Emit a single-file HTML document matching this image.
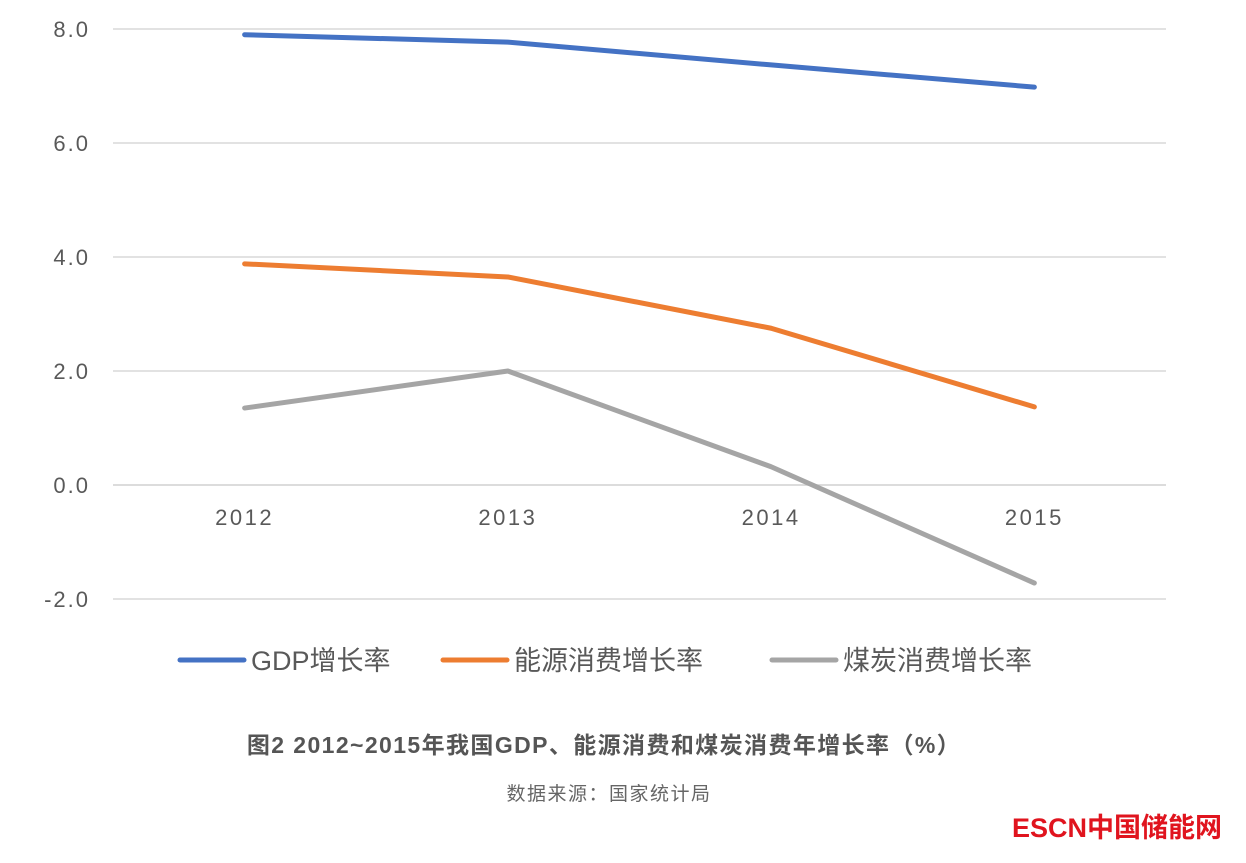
<!DOCTYPE html>
<html><head><meta charset="utf-8"><style>
body{margin:0;background:#fff;width:1246px;height:858px;overflow:hidden;font-family:"Liberation Sans","Noto Sans CJK SC",sans-serif}
</style></head><body>
<svg id="chart" width="1246" height="858" xmlns="http://www.w3.org/2000/svg" font-family="Liberation Sans, Noto Sans CJK SC, sans-serif"></svg>
<script>
const categories=["2012","2013","2014","2015"];
const gdpValues=[7.9,7.77,7.37,6.98];
const energyValues=[3.88,3.65,2.75,1.37];
const coalValues=[1.35,2.0,0.32,-1.72];
const yTicks=[8,6,4,2,0,-2];
const seriesNames=["GDP增长率","能源消费增长率","煤炭消费增长率"];
const seriesColors=["#4472c4","#ed7d31","#a5a5a5"];

const svg=document.getElementById('chart');
const NS="http://www.w3.org/2000/svg";
const x0=113,x1=1166,zeroY=485,unit=57;
const band=(x1-x0)/categories.length;
function xs(i){return x0+band*(i+0.5);}
function ys(v){return zeroY-v*unit;}
function mk(tag,attrs,parent){const e=document.createElementNS(NS,tag);for(const k in attrs)e.setAttribute(k,attrs[k]);(parent||svg).appendChild(e);return e;}

yTicks.forEach(t=>{
  const g=mk('line',{x1:x0,x2:x1,y1:ys(t),y2:ys(t),stroke:t===0?'#d0d0d0':'#d9d9d9','stroke-width':1.5});
  
  
  const l=mk('text',{x:90,y:ys(t)+8,'text-anchor':'end','font-size':22,'letter-spacing':2,fill:'#595959'});
  l.textContent=t.toFixed(1);
  
  
});
categories.forEach((c,i)=>{
  const l=mk('text',{x:xs(i),y:525,'text-anchor':'middle','font-size':22,'letter-spacing':2.5,fill:'#595959'});
  l.textContent=c;
  
  
});
[gdpValues,energyValues,coalValues].forEach((vals,s)=>{
  const p=mk('polyline',{points:vals.map((v,i)=>xs(i)+','+ys(v)).join(' '),fill:'none',stroke:seriesColors[s],'stroke-width':5,'stroke-linecap':'round','stroke-linejoin':'round'});
  
  
});
const legX=[180,443,772];
seriesNames.forEach((n,s)=>{
  const g=mk('g',{});
  
  
  mk('line',{x1:legX[s],x2:legX[s]+64,y1:660,y2:660,stroke:seriesColors[s],'stroke-width':5,'stroke-linecap':'round'},g);
  const t=mk('text',{x:legX[s]+71,y:670,'font-size':27,fill:'#595959'},g);
  t.textContent=n;
});
const title=mk('text',{x:604,y:753,'text-anchor':'middle','font-size':23,'letter-spacing':1.4,'font-weight':'bold',fill:'#555'});
title.textContent="图2  2012~2015年我国GDP、能源消费和煤炭消费年增长率（%）";


const src=mk('text',{x:609,y:800,'text-anchor':'middle','font-size':19,'letter-spacing':1.5,fill:'#666'});
src.textContent="数据来源：国家统计局";


const logo=mk('text',{x:1012,y:837,'font-size':27,'font-weight':'bold',fill:'#e0141e'});
logo.textContent="ESCN中国储能网";


</script>
</body></html>
